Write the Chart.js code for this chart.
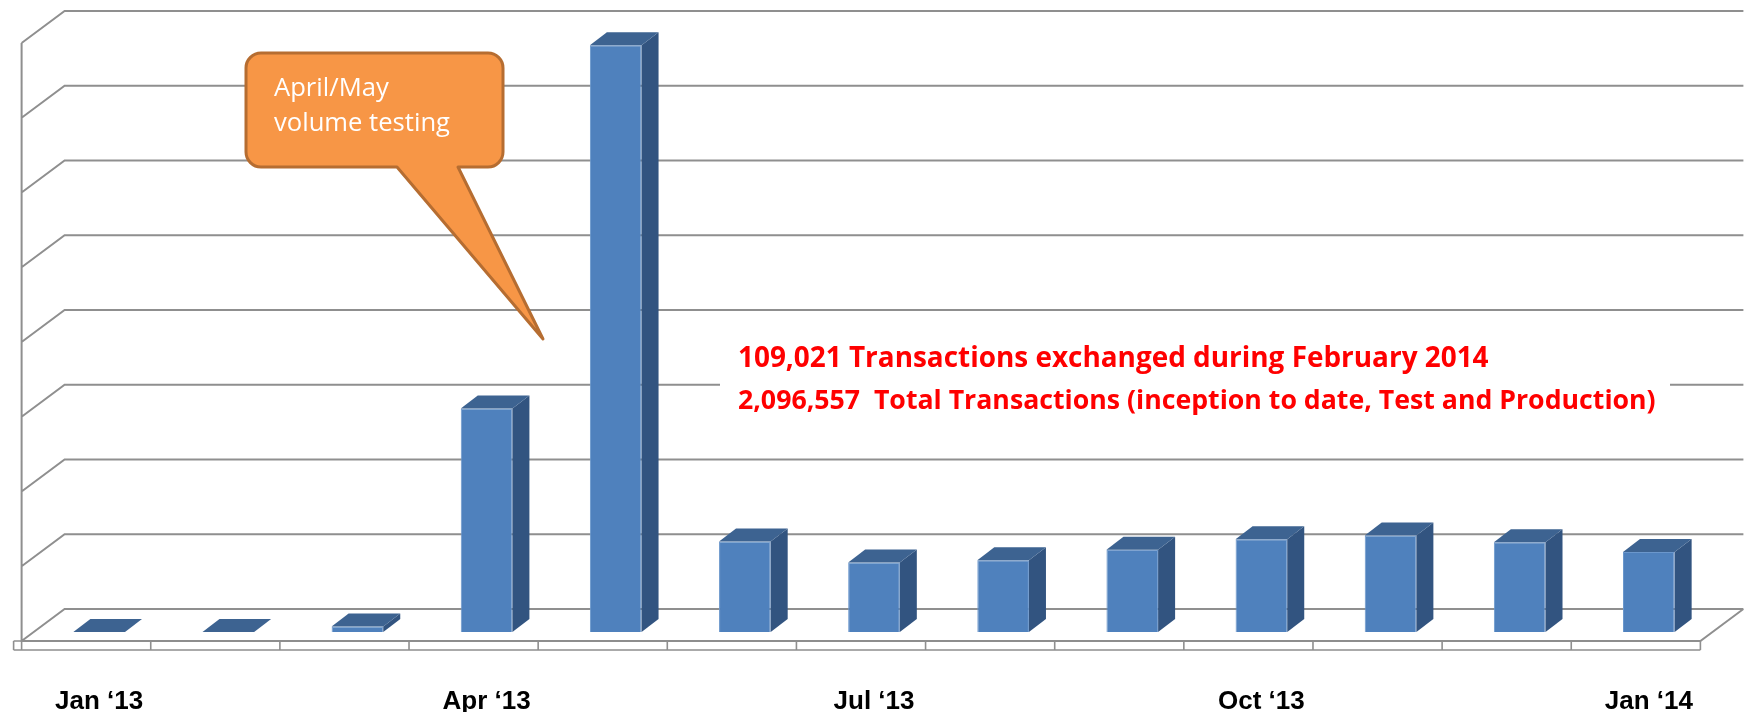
<!DOCTYPE html>
<html>
<head>
<meta charset="utf-8">
<title>Transactions</title>
<script src="https://cdn.jsdelivr.net/npm/chart.js@4.4.1/dist/chart.umd.min.js"></script>
<style>
  html, body { margin: 0; padding: 0; background: #ffffff; }
  canvas { display: block; }
</style>
</head>
<body>
<canvas id="txChart" width="1748" height="712"></canvas>
<script>
// monthly transactions, Jan 2013 - Jan 2014
const months = ['Jan 2013', 'Feb 2013', 'Mar 2013', 'Apr 2013', 'May 2013', 'Jun 2013', 'Jul 2013',
                'Aug 2013', 'Sep 2013', 'Oct 2013', 'Nov 2013', 'Dec 2013', 'Jan 2014'];
const tickLabels = ['Jan \u201813', '', '', 'Apr \u201813', '', '', 'Jul \u201813', '', '', 'Oct \u201813', '', '', 'Jan \u201814'];
const transactions = [0, 0, 7500, 299000, 785000, 121000, 93000, 96000, 110000, 124000, 129000, 120000, 107000];
const gridValues = [0, 100000, 200000, 300000, 400000, 500000, 600000, 700000, 800000];
const calloutLines = ['April/May', 'volume testing'];
const noteLines = ['109,021 Transactions exchanged during February 2014',
                   '2,096,557  Total Transactions (inception to date, Test and Production)'];

// oblique offsets, measured from the bar front plane
const BAR_DEPTH = { dx: 17, dy: -13 };
const WALL = { dx: 30, dy: -23 };
const FLOOR = { dx: -13, dy: 9 };

function fitFont(ctx, text, weight, family, targetWidth) {
    ctx.font = weight + ' 40px ' + family;
    const w = ctx.measureText(text).width;
    return weight + ' ' + (40 * targetWidth / w).toFixed(2) + 'px ' + family;
}

const threeD = {
    id: 'threeD',
    beforeDatasetsDraw(chart) {
        const { ctx, chartArea: a, scales: { x, y } } = chart;
        const fl = a.left + FLOOR.dx, fr = a.right + FLOOR.dx;
        const wl = a.left + WALL.dx, wr = a.right + WALL.dx;
        const y0 = y.getPixelForValue(0);
        const yTop = y.getPixelForValue(gridValues[gridValues.length - 1]);

        ctx.save();
        ctx.strokeStyle = '#8f8f8f';
        ctx.lineWidth = 2;
        ctx.beginPath();
        gridValues.forEach(v => {
            const py = y.getPixelForValue(v);
            ctx.moveTo(fl, py + FLOOR.dy);
            ctx.lineTo(wl, py + WALL.dy);
            ctx.lineTo(wr, py + WALL.dy);
        });
        // side wall front edge
        ctx.moveTo(fl, yTop + FLOOR.dy);
        ctx.lineTo(fl, y0 + FLOOR.dy);
        // floor front and right edge
        ctx.lineTo(fr, y0 + FLOOR.dy);
        ctx.lineTo(wr, y0 + WALL.dy);
        ctx.stroke();

        // axis plate under the floor
        const band = 9;
        const cat = (a.right - a.left) / months.length;
        ctx.lineWidth = 1.6;
        ctx.beginPath();
        ctx.moveTo(fl - 8, y0 + FLOOR.dy);
        ctx.lineTo(fr, y0 + FLOOR.dy);
        ctx.moveTo(fl - 8, y0 + FLOOR.dy + band);
        ctx.lineTo(fr, y0 + FLOOR.dy + band);
        ctx.moveTo(fl - 8, y0 + FLOOR.dy);
        ctx.lineTo(fl - 8, y0 + FLOOR.dy + band);
        for (let i = 0; i <= months.length; i++) {
            const px = x.getPixelForValue(0) - cat / 2 + i * cat + FLOOR.dx;
            ctx.moveTo(px, y0 + FLOOR.dy);
            ctx.lineTo(px, y0 + FLOOR.dy + band);
        }
        ctx.stroke();

        // white text box behind the notes
        ctx.fillStyle = '#ffffff';
        ctx.fillRect(720, 336, 950, 84);
        ctx.restore();
    },
    afterDatasetsDraw(chart) {
        const { ctx } = chart;
        const meta = chart.getDatasetMeta(0);
        ctx.save();
        meta.data.forEach(bar => {
            const { x, y, base, width } = bar.getProps(['x', 'y', 'base', 'width'], true);
            const l = x - width / 2, r = x + width / 2;
            const { dx, dy } = BAR_DEPTH;
            // side
            ctx.fillStyle = '#325480';
            ctx.beginPath();
            ctx.moveTo(r, y);
            ctx.lineTo(r + dx, y + dy);
            ctx.lineTo(r + dx, base + dy);
            ctx.lineTo(r, base);
            ctx.closePath();
            ctx.fill();
            // top
            ctx.fillStyle = '#3d6391';
            ctx.beginPath();
            ctx.moveTo(l, y);
            ctx.lineTo(r, y);
            ctx.lineTo(r + dx, y + dy);
            ctx.lineTo(l + dx, y + dy);
            ctx.closePath();
            ctx.fill();
        });
        ctx.restore();
    },
    afterDraw(chart) {
        const { ctx } = chart;
        ctx.save();
        // callout
        const bx = 246, by = 53, bw = 257, bh = 114, rad = 15;
        ctx.beginPath();
        ctx.moveTo(bx + rad, by);
        ctx.lineTo(bx + bw - rad, by);
        ctx.arcTo(bx + bw, by, bx + bw, by + rad, rad);
        ctx.lineTo(bx + bw, by + bh - rad);
        ctx.arcTo(bx + bw, by + bh, bx + bw - rad, by + bh, rad);
        ctx.lineTo(458, by + bh);
        ctx.lineTo(543, 339);
        ctx.lineTo(397, by + bh);
        ctx.lineTo(bx + rad, by + bh);
        ctx.arcTo(bx, by + bh, bx, by + bh - rad, rad);
        ctx.lineTo(bx, by + rad);
        ctx.arcTo(bx, by, bx + rad, by, rad);
        ctx.closePath();
        ctx.fillStyle = '#f79646';
        ctx.fill();
        ctx.strokeStyle = '#b66d31';
        ctx.lineWidth = 3;
        ctx.lineJoin = 'round';
        ctx.stroke();

        ctx.fillStyle = '#ffffff';
        ctx.textBaseline = 'alphabetic';
        ctx.font = fitFont(ctx, calloutLines[1], 'normal', '"Open Sans"', 176);
        ctx.fillText(calloutLines[0], 274, 96);
        ctx.fillText(calloutLines[1], 274, 131);

        // notes
        ctx.fillStyle = '#ff0000';
        ctx.font = fitFont(ctx, noteLines[0], 'bold', '"Open Sans"', 751);
        ctx.fillText(noteLines[0], 738, 367);
        ctx.font = fitFont(ctx, noteLines[1], 'bold', '"Open Sans"', 918);
        ctx.fillText(noteLines[1], 738, 409);
        ctx.restore();
    }
};

new Chart(document.getElementById('txChart'), {
    type: 'bar',
    data: {
        labels: months,
        datasets: [{
            label: 'Transactions',
            data: transactions,
            backgroundColor: '#4f81bd',
            borderColor: '#6b97cc',
            borderWidth: 1,
            barPercentage: 0.4,
            categoryPercentage: 1.0
        }]
    },
    options: {
        responsive: false,
        animation: false,
        layout: { padding: { left: 30, right: 33, top: 34, bottom: 0 } },
        scales: {
            x: {
                grid: { display: false, drawTicks: false },
                border: { display: false },
                afterFit: scale => { scale.height = 80; },
                ticks: {
                    autoSkip: false,
                    maxRotation: 0,
                    padding: 54,
                    color: '#000000',
                    font: { family: '"Liberation Sans", Arial, sans-serif', size: 26, weight: 'bold' },
                    callback: (value, index) => tickLabels[index]
                }
            },
            y: {
                display: false,
                min: 0,
                max: 800000
            }
        },
        plugins: {
            legend: { display: false },
            tooltip: { enabled: false }
        }
    },
    plugins: [threeD]
});
</script>
</body>
</html>
